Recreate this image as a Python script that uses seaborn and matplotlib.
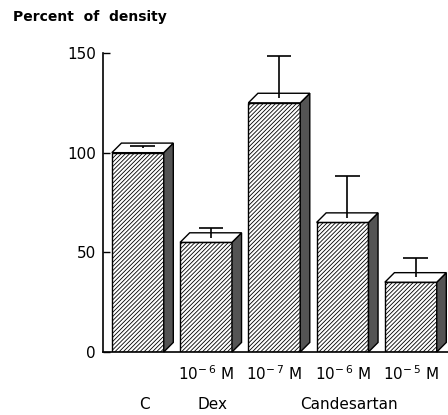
import numpy as np
import pandas as pd
import matplotlib
matplotlib.use("Agg")
import matplotlib.pyplot as plt
from matplotlib.patches import Polygon
import seaborn as sns

# Data
conditions = ["C", "Dex 1e-6", "Cand 1e-7", "Cand 1e-6", "Cand 1e-5"]
density = [100, 55, 125, 65, 35]
sem = [1, 5, 21, 21, 10]
tick_labels = ["", r"10$^{-\,6}$ M", r"10$^{-\,7}$ M", r"10$^{-\,6}$ M", r"10$^{-\,5}$ M"]
group_labels = ["C", "Dex", "Candesartan"]
group_pos = [0, 1, 3]

sns.set_theme(style="white")
plt.rcParams["font.family"] = ["DejaVu Sans"]
plt.rcParams["hatch.linewidth"] = 0.6

df = pd.DataFrame({"condition": conditions, "density": density})

fig = plt.figure(figsize=(4.48, 4.15), dpi=100)
ax = fig.add_axes([103 / 448, 63 / 415, 345 / 448, 299 / 415])

sns.barplot(data=df, x="condition", y="density", color="white",
            edgecolor="black", linewidth=1.0, width=0.76, errorbar=None,
            ax=ax, zorder=3)

ax.set_xlim(-0.51, 4.545)
ax.set_ylim(0, 150)

# 3-D depth of each bar (data units)
dx, dy = 0.14, 4.8
cap_half = 0.18

for bar, err in zip(ax.patches, sem):
    bar.set_hatch("////////")
    bar.set_facecolor("white")
    x0 = bar.get_x()
    w = bar.get_width()
    h = bar.get_height()
    x1 = x0 + w
    top = Polygon([(x0, h), (x0 + dx, h + dy), (x1 + dx, h + dy), (x1, h)],
                  closed=True, facecolor="white", edgecolor="black",
                  linewidth=1.0, zorder=4, clip_on=False)
    side = Polygon([(x1, 0), (x1, h), (x1 + dx, h + dy), (x1 + dx, dy)],
                   closed=True, facecolor="0.33", edgecolor="black",
                   linewidth=1.0, zorder=4, clip_on=False)
    ax.add_patch(side)
    ax.add_patch(top)
    # upper error bar rising from the middle of the top face
    xc = x0 + w / 2 + dx / 2
    base = h + dy / 2
    ax.vlines(xc, base, base + err, colors="black", linewidth=1.2,
              zorder=5, clip_on=False)
    ax.hlines(base + err, xc - cap_half, xc + cap_half, colors="black",
              linewidth=1.2, zorder=5, clip_on=False)

# Axes styling
sns.despine(ax=ax, top=True, right=True)
for s in ("left", "bottom"):
    ax.spines[s].set_color("black")
    ax.spines[s].set_linewidth(1.2)
    ax.spines[s].set_zorder(6)

ax.set_yticks([0, 50, 100, 150])
ax.tick_params(axis="y", direction="in", length=5, width=1.0, pad=5,
               labelsize=11, colors="black", left=True)
ax.set_xticks(range(len(conditions)))
ax.set_xticklabels(tick_labels)
ax.tick_params(axis="x", length=0, pad=9, labelsize=11, colors="black")
ax.set_xlabel("")
ax.set_ylabel("")

for name, pos in zip(group_labels, group_pos):
    ax.text(pos + 0.1, -0.177, name, transform=ax.get_xaxis_transform(),
            ha="center", va="center", fontsize=11, color="black")

fig.text(13 / 448, 1 - 17 / 415, "Percent  of  density", ha="left",
         va="center", fontsize=10, fontweight="bold", color="black")

fig.savefig("out.png", dpi=100)
